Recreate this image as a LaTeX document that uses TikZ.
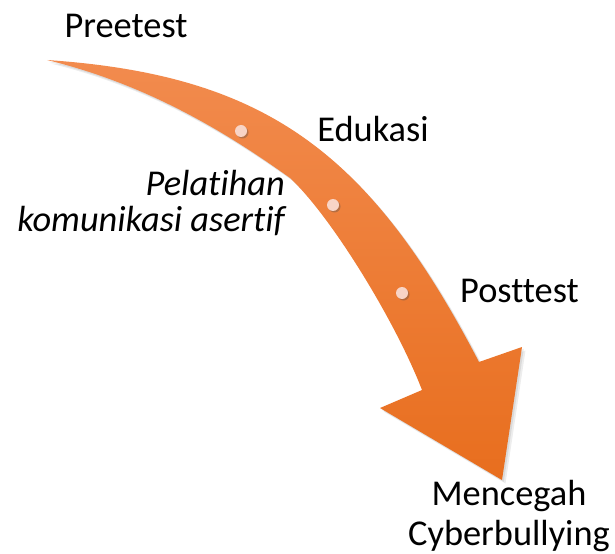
\documentclass[tikz,border=0pt]{standalone}
\usepackage{fontspec}
\setmainfont[Ligatures=NoCommon]{Carlito}
\usetikzlibrary{shadows}
\definecolor{arrowtop}{HTML}{F28B4E}
\definecolor{arrowbot}{HTML}{E86E1E}
\definecolor{dotfill}{HTML}{F8D4C6}
\tikzset{
  lbl/.style={font=\fontsize{36.5}{40}\selectfont, text=black, inner sep=0pt},
  stepdot/.style={circle, fill=dotfill, minimum size=12bp, inner sep=0pt,
    drop shadow={shadow xshift=1.5bp, shadow yshift=-1.5bp, opacity=0.35, fill=black!70}},
}
\newcommand{\arrowpath}{%
  (47,60) .. controls (267,75) and (370,153) .. (479,362)
  -- (522,347) -- (502,480) -- (380,408) -- (422,390)
  .. controls (395,320) and (330,215) .. (290,178)
  .. controls (230,135) and (150,85) .. (47,60) -- cycle}
\begin{document}
\begin{tikzpicture}[x=1bp, y=-1bp]
\useasboundingbox (0,0) rectangle (615,554);
% soft shadow of the curved arrow
\begin{scope}[shift={(3.5,3.5)}]
  \fill[black, opacity=0.07] \arrowpath;
\end{scope}
\begin{scope}[shift={(1.8,1.8)}]
  \fill[black, opacity=0.08] \arrowpath;
\end{scope}
% curved arrow
\shade[top color=arrowtop, bottom color=arrowbot] \arrowpath;
% dots
\node[stepdot] (d1) at (241,131) {};
\node[stepdot] (d2) at (333,205) {};
\node[stepdot] (d3) at (402,293) {};
% labels
\node[lbl, anchor=base] (pre) at (126,38) {Preetest};
\node[lbl, anchor=base] (edu) at (373,142) {Edukasi};
\node[lbl, anchor=base east, align=right, font=\fontsize{36.5}{37}\selectfont\itshape] (pel) at (285,232) {Pelatihan\\komunikasi asertif};
\node[lbl, anchor=base] (post) at (519.5,302) {Posttest};
\node[lbl, anchor=base, align=center] (cyb) at (509,545) {Mencegah\\Cyberbullying};
\end{tikzpicture}
\end{document}
